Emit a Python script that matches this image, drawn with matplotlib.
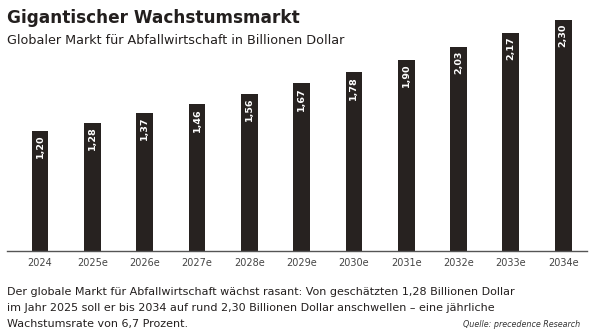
import matplotlib.pyplot as plt
import numpy as np

years = ['2024', '2025e', '2026e', '2027e', '2028e', '2029e',
         '2030e', '2031e', '2032e', '2033e', '2034e']
values = [1.20, 1.28, 1.37, 1.46, 1.56, 1.67, 1.78, 1.90, 2.03, 2.17, 2.30]

caption_lines = [
    'Der globale Markt für Abfallwirtschaft wächst rasant: Von geschätzten 1,28 Billionen Dollar',
    'im Jahr 2025 soll er bis 2034 auf rund 2,30 Billionen Dollar anschwellen – eine jährliche',
    'Wachstumsrate von 6,7 Prozent.',
]

bar_color = '#272220'
text_color = '#231f1e'

plt.rcParams['font.family'] = ['DejaVu Sans']

fig = plt.figure(figsize=(6, 3.36), dpi=100)
ax = fig.add_axes([0.0117, 0.253, 0.967, 0.702])

x = np.arange(len(years))
ax.bar(x, values, width=0.32, color=bar_color, zorder=2)

for xi, v in zip(x, values):
    ax.text(xi, v - 0.035, f'{v:.2f}'.replace('.', ','), rotation=90,
            ha='center', va='top', color='white', fontsize=6.8,
            fontweight='bold')

ax.set_xlim(-0.63, 10.46)
ax.set_ylim(0, 2.35)
ax.set_xticks(x)
ax.set_xticklabels(years, fontsize=7, color='#444444')
ax.tick_params(axis='x', length=0, pad=5)
ax.set_yticks([])
for side in ['top', 'left', 'right']:
    ax.spines[side].set_visible(False)
ax.spines['bottom'].set_color('#555555')
ax.spines['bottom'].set_linewidth(1.0)

fig.text(0.012, 0.945, 'Gigantischer Wachstumsmarkt', fontsize=12.2,
         fontweight='bold', color=text_color, va='center')
fig.text(0.012, 0.878, 'Globaler Markt für Abfallwirtschaft in Billionen Dollar',
         fontsize=9.2, color=text_color, va='center')

for i, line in enumerate(caption_lines):
    fig.text(0.012, 0.131 - i * 0.048, line, fontsize=8.0,
             color=text_color, va='center')
fig.text(0.967, 0.033, 'Quelle: precedence Research', fontsize=5.8,
         style='italic', color='#333333', ha='right', va='center')

fig.savefig('out.png', dpi=100)
